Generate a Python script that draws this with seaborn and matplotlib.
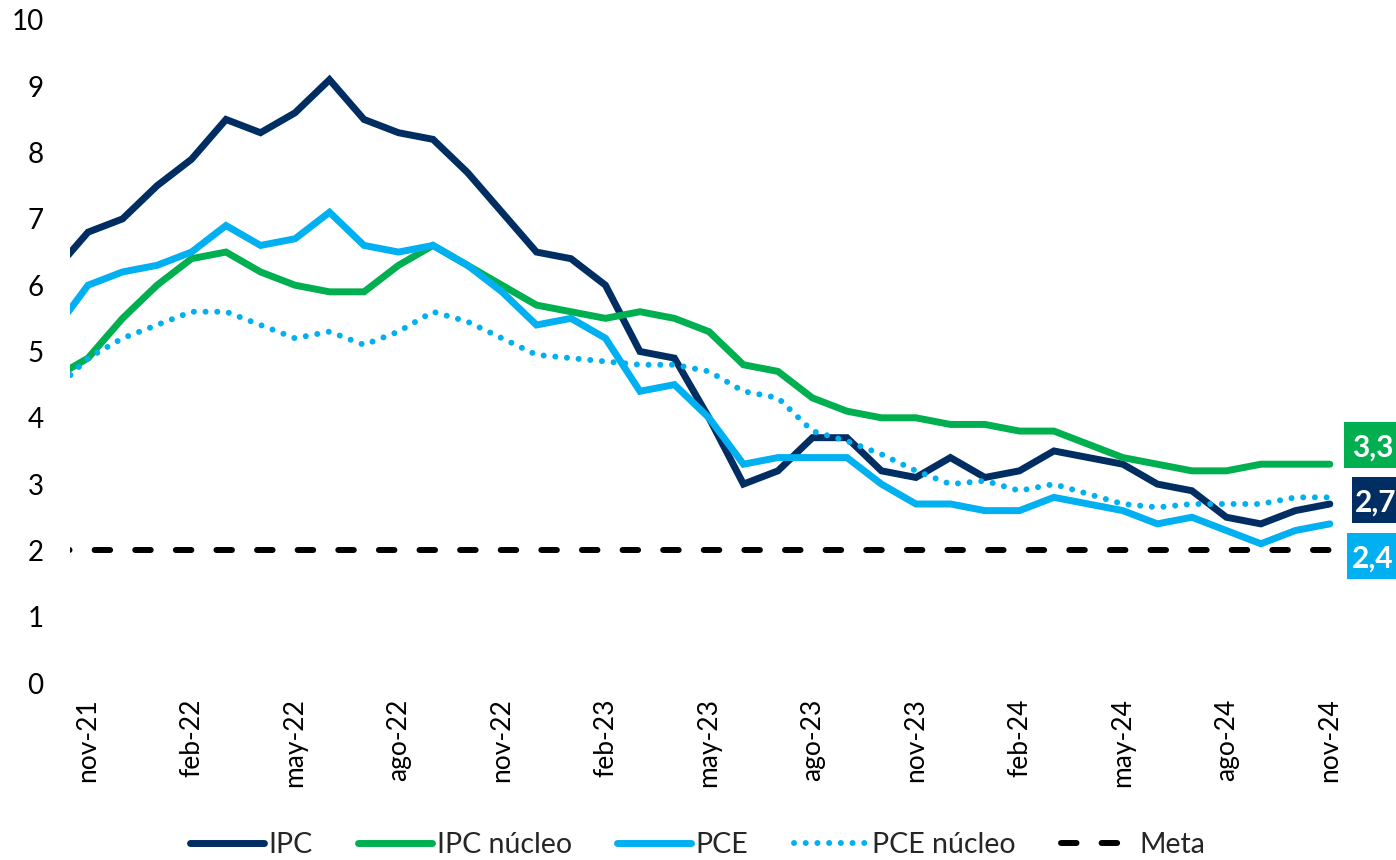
import pandas as pd
import matplotlib.pyplot as plt
import seaborn as sns
from matplotlib.patches import Rectangle

# monthly data, oct-21 .. nov-24 (oct-21 only feeds the clipped first segment)
meses_abr = ['ene', 'feb', 'mar', 'abr', 'may', 'jun', 'jul', 'ago', 'sep', 'oct', 'nov', 'dic']
periodos = pd.period_range('2021-10', '2024-11', freq='M')
fechas = [f"{meses_abr[p.month - 1]}-{str(p.year)[2:]}" for p in periodos]

ipc = [6.2, 6.8, 7.0, 7.5, 7.9, 8.5, 8.3, 8.6, 9.1, 8.5, 8.3, 8.2, 7.7, 7.1, 6.5, 6.4, 6.0, 5.0, 4.9,
       4.0, 3.0, 3.2, 3.7, 3.7, 3.2, 3.1, 3.4, 3.1, 3.2, 3.5, 3.4, 3.3, 3.0, 2.9, 2.5, 2.4, 2.6, 2.7]
ipc_nucleo = [4.6, 4.9, 5.5, 6.0, 6.4, 6.5, 6.2, 6.0, 5.9, 5.9, 6.3, 6.6, 6.3, 6.0, 5.7, 5.6, 5.5, 5.6, 5.5,
              5.3, 4.8, 4.7, 4.3, 4.1, 4.0, 4.0, 3.9, 3.9, 3.8, 3.8, 3.6, 3.4, 3.3, 3.2, 3.2, 3.3, 3.3, 3.3]
pce = [5.3, 6.0, 6.2, 6.3, 6.5, 6.9, 6.6, 6.7, 7.1, 6.6, 6.5, 6.6, 6.3, 5.9, 5.4, 5.5, 5.2, 4.4, 4.5,
       4.0, 3.3, 3.4, 3.4, 3.4, 3.0, 2.7, 2.7, 2.6, 2.6, 2.8, 2.7, 2.6, 2.4, 2.5, 2.3, 2.1, 2.3, 2.4]
pce_nucleo = [4.4, 4.9, 5.2, 5.4, 5.6, 5.6, 5.4, 5.2, 5.3, 5.1, 5.3, 5.6, 5.45, 5.2, 4.95, 4.9, 4.85, 4.8, 4.8,
              4.7, 4.4, 4.3, 3.8, 3.65, 3.45, 3.2, 3.0, 3.05, 2.9, 3.0, 2.85, 2.7, 2.65, 2.7, 2.7, 2.7, 2.8, 2.8]
meta = [2.0] * len(fechas)

etiquetas_finales = ['3,3', '2,7', '2,4']

AZUL_OSC = '#002D62'
VERDE = '#00B050'
CELESTE = '#00B0F0'

df = pd.DataFrame({
    'mes': range(-1, len(fechas) - 1),
    'fecha': fechas,
    'IPC': ipc,
    'IPC núcleo': ipc_nucleo,
    'PCE': pce,
    'PCE núcleo': pce_nucleo,
    'Meta': meta,
})

sns.set_theme(style='white')
plt.rcParams['font.family'] = ['Lato', 'DejaVu Sans']

fig = plt.figure(figsize=(13.96, 8.6), dpi=100)
ax = fig.add_axes([70.1 / 1396, 1 - 683 / 860, 1277 / 1396, 663 / 860])

lw = 5
estilos = {
    'IPC': dict(color=AZUL_OSC, linewidth=lw, solid_capstyle='round', solid_joinstyle='miter'),
    'IPC núcleo': dict(color=VERDE, linewidth=lw, solid_capstyle='round', solid_joinstyle='miter'),
    'PCE': dict(color=CELESTE, linewidth=lw, solid_capstyle='round', solid_joinstyle='miter'),
    'PCE núcleo': dict(color=CELESTE, linewidth=4.3, linestyle=(0, (0.01, 1.95)), dash_capstyle='round'),
    'Meta': dict(color='black', linewidth=4.3, linestyle=(0, (2.6, 4.2)), dash_capstyle='round'),
}
for serie, kw in estilos.items():
    sns.lineplot(data=df, x='mes', y=serie, ax=ax, label=serie, **kw)

ax.set_xlim(-0.52, 36.5)
ax.set_ylim(0, 10)
ax.set_yticks(range(0, 11))
ax.set_yticklabels([str(v) for v in range(0, 11)])
pos_x = list(range(0, 37, 3))
ax.set_xticks(pos_x)
ax.set_xticklabels([fechas[p + 1] for p in pos_x], rotation=90)
ax.tick_params(axis='y', length=0, pad=19, labelsize=20, labelcolor='black')
ax.tick_params(axis='x', length=0, pad=11, labelsize=19, labelcolor='black')
ax.set_xlabel('')
ax.set_ylabel('')
for s in ax.spines.values():
    s.set_visible(False)

ax.get_legend().remove()
handles, labels = ax.get_legend_handles_labels()
fig.legend(handles, labels, loc='center', bbox_to_anchor=(0.5, 15 / 860), ncol=5, frameon=False,
           handlelength=2.6, handletextpad=0.15, columnspacing=1.6, fontsize=20.5)

# end-value boxes on the right edge
cajas = [
    (etiquetas_finales[0], VERDE, 1344, 422, 468, 1352),
    (etiquetas_finales[1], AZUL_OSC, 1352, 477, 523, 1355),
    (etiquetas_finales[2], CELESTE, 1347, 533, 579, 1352),
]
for texto, color, x0, y_top, y_bot, xt in cajas:
    fig.add_artist(Rectangle((x0 / 1396, 1 - y_bot / 860), 80 / 1396, (y_bot - y_top) / 860,
                             transform=fig.transFigure, facecolor=color, edgecolor='none'))
    fig.text(xt / 1396, 1 - (y_top + y_bot) / 2 / 860, texto, color='white', fontsize=21.5,
             fontweight='bold', ha='left', va='center_baseline')

fig.savefig('out.png', dpi=100)
